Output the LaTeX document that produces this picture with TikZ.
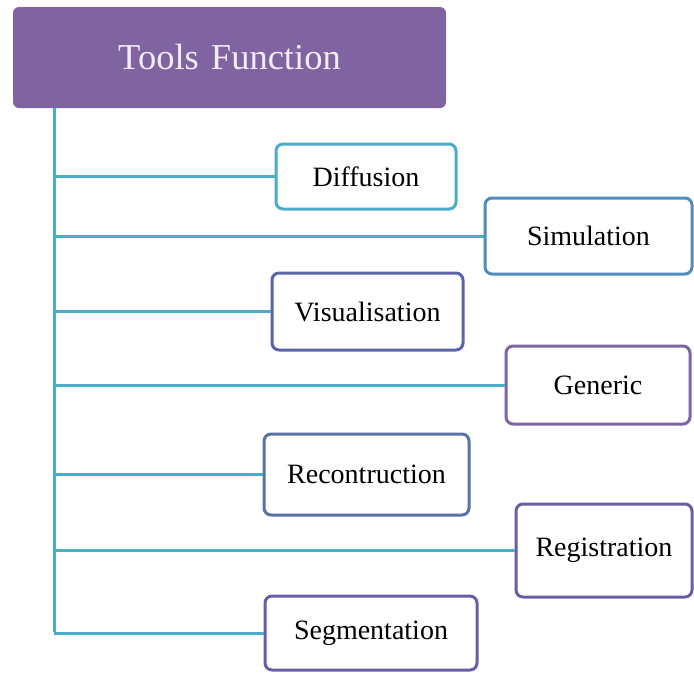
\documentclass[tikz,border=0pt]{standalone}
\usepackage{fontspec}
\setmainfont{Liberation Serif}
\definecolor{headfill}{HTML}{8064A2}
\definecolor{headtext}{HTML}{F2ECF6}
\definecolor{trunkcol}{HTML}{4BACC6}
\definecolor{cDiff}{HTML}{4BACC6}
\definecolor{cSim}{HTML}{4F8DC0}
\definecolor{cVis}{HTML}{5A64A8}
\definecolor{cGen}{HTML}{7D64A3}
\definecolor{cRec}{HTML}{5872A8}
\definecolor{cReg}{HTML}{6B5CA6}
\definecolor{cSeg}{HTML}{665FA8}

\begin{document}
\begin{tikzpicture}[x=1pt, y=-1pt, line width=3pt]
				\tikzstyle{head}=[rectangle, rounded corners=6pt, fill=headfill, draw=none, text=headtext, font=\fontsize{36.5}{42}\selectfont, minimum width=433pt, minimum height=101pt]
				\tikzstyle{tool}=[rectangle, rounded corners=7pt, fill=white, draw, text=black, font=\fontsize{28}{32}\selectfont, inner sep=0pt]
				\tikzstyle{branch}=[draw=trunkcol, line width=3pt]
				
				\useasboundingbox (0,0) rectangle (694,673);
				\clip (0,0) rectangle (694,673);
				\fill[white] (0,0) rectangle (694,673);
				
				\node[head] at (229.5, 57.5) (H) {Tools\,\,Function};
				\coordinate (top) at (54, 108);
				\coordinate (bot) at (54, 632);
				
				\node[tool, draw=cDiff, minimum width=180pt, minimum height=65pt] at (366, 176.5) (D) {Diffusion};
				\node[tool, draw=cSim, minimum width=207pt, minimum height=76pt] at (588.5, 236) (S) {Simulation};
				\node[tool, draw=cVis, minimum width=191pt, minimum height=77pt] at (367.5, 311.5) (V) {Visualisation};
				\node[tool, draw=cGen, minimum width=184pt, minimum height=78pt] at (598, 385) (G) {Generic};
				\node[tool, draw=cRec, minimum width=205pt, minimum height=81pt] at (366.5, 474.5) (R) {Recontruction};
				\node[tool, draw=cReg, minimum width=176pt, minimum height=93pt] at (604, 550.5) (Rg) {Registration};
				\node[tool, draw=cSeg, minimum width=212pt, minimum height=74pt] at (371, 633) (Sg) {Segmentation};
				
				\path[branch]
				(top) edge (bot)
				(top |- D) edge (D.west)
				(top |- S) edge (S.west)
				(top |- V) edge (V.west)
				(top |- G) edge (G.west)
				(top |- R) edge (R.west)
				(top |- Rg) edge (Rg.west)
				(top |- Sg) edge (Sg.west);
		  \end{tikzpicture}
\end{document}
